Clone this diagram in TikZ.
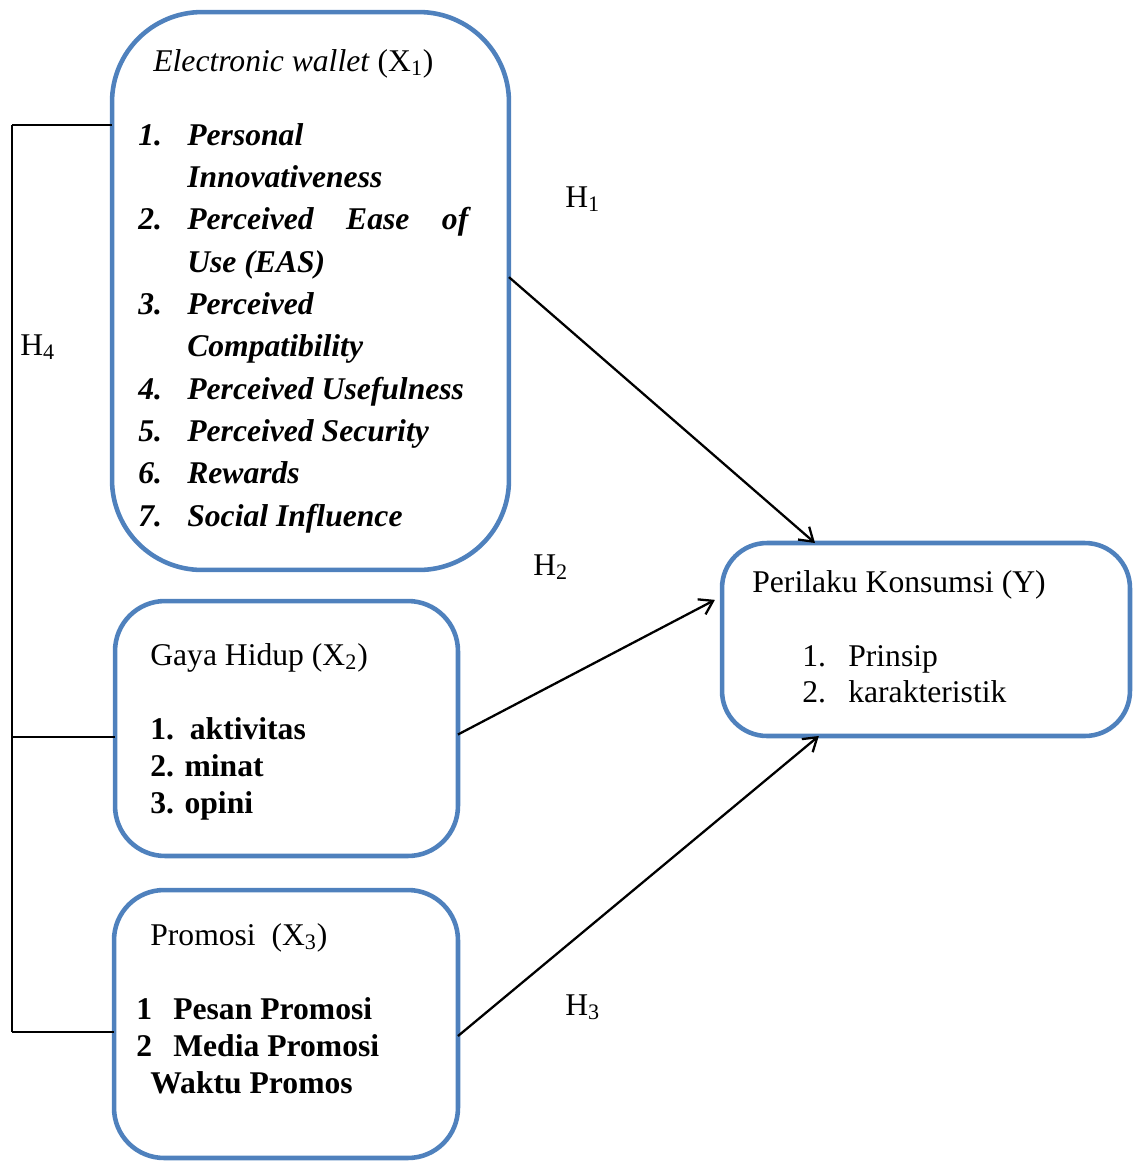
\documentclass[tikz,border=0pt]{standalone}
\usepackage{fontspec}
\setmainfont{Liberation Serif}
\usetikzlibrary{arrows.meta}
\definecolor{boxblue}{RGB}{79,129,189}
\tikzset{
  varbox/.style={draw=boxblue, line width=2.6pt, outer sep=0pt, inner sep=0pt},
  txt/.style={anchor=base west, inner sep=0pt, font=\fontsize{18}{#1}\selectfont},
  txt/.default=23.4,
  link/.style={line width=1.3pt, -{Straight Barb[length=2.6mm,width=3.4mm]}},
}

\begin{document}
\begin{tikzpicture}[x=0.02cm, y=-0.02cm]
\useasboundingbox (0,0) rectangle (1139,1161);
% variable boxes
\node[varbox, rounded corners=1.8cm, minimum width=7.94cm, minimum height=11.16cm] (x1) at (310.5,291) {};
\node[varbox, rounded corners=1cm, minimum width=6.86cm, minimum height=5.1cm] (x2) at (286.5,728.5) {};
\node[varbox, rounded corners=1cm, minimum width=6.88cm, minimum height=5.36cm] (x3) at (286,1024) {};
\node[varbox, rounded corners=0.9cm, minimum width=8.16cm, minimum height=3.86cm] (y) at (926,639.5) {};

% texts in the boxes
\node[txt] (x1title) at (153,71) {\textit{Electronic wallet} (X\textsubscript{1})};
\node[txt=24.1] (x1list) at (138,145) {\bfseries\itshape
  \begin{tabular}[t]{@{}p{0.98cm}@{}l@{}}
  1. & Personal\\
     & Innovativeness\\
  2. & \makebox[5.62cm][s]{Perceived\hfill Ease\hfill of}\\
     & Use (EAS)\\
  3. & Perceived\\
     & Compatibility\\
  4. & Perceived Usefulness\\
  5. & Perceived Security\\
  6. & Rewards\\
  7. & Social Influence
  \end{tabular}};

\node[txt] (x2title) at (150,665) {Gaya Hidup (X\textsubscript{2})};
\node[txt=21.3] (x2list) at (150,739) {\bfseries
  \begin{tabular}[t]{@{}l@{}}
  1.\ \ aktivitas\\
  2. minat\\
  3. opini
  \end{tabular}};

\node[txt] (x3title) at (150,945) {Promosi\ \ (X\textsubscript{3})};
\node[txt=21.3] (x3list) at (136,1019) {\bfseries
  \begin{tabular}[t]{@{}p{0.74cm}@{}l@{}}
  1 & Pesan Promosi\\
  2 & Media Promosi\\
  \multicolumn{2}{@{}l@{}}{\hspace{0.28cm}Waktu Promos}
  \end{tabular}};

\node[txt] (ytitle) at (752,592) {Perilaku Konsumsi (Y)};
\node[txt=21] (ylist) at (802,666) {%
  \begin{tabular}[t]{@{}p{0.92cm}@{}l@{}}
  1. & Prinsip\\
  2. & karakteristik
  \end{tabular}};

% hypotheses
\node[txt] (h1) at (565,207) {H\textsubscript{1}};
\node[txt] (h2) at (533,575) {H\textsubscript{2}};
\node[txt] (h3) at (565,1015) {H\textsubscript{3}};
\node[txt] (h4) at (20,355) {H\textsubscript{4}};

% bracket for H4
\coordinate (b1) at (12,125);
\coordinate (b2) at (12,737);
\coordinate (b3) at (12,1032);
\draw[line width=1.1pt] (b1) -- (b3);
\draw[line width=1.1pt] (b1) -- (b1 -| x1.west);
\draw[line width=1.1pt] (b2) -- (b2 -| x2.west);
\draw[line width=1.1pt] (b3) -- (b3 -| x3.west);

% arrows to Y
\draw[link] (x1.4) -- (y.139);
\draw[link, shorten >=1.6mm] (x2.-2.5) -- (y.168);
\draw[link] (x3.-4) -- (y.222);
\end{tikzpicture}
\end{document}
